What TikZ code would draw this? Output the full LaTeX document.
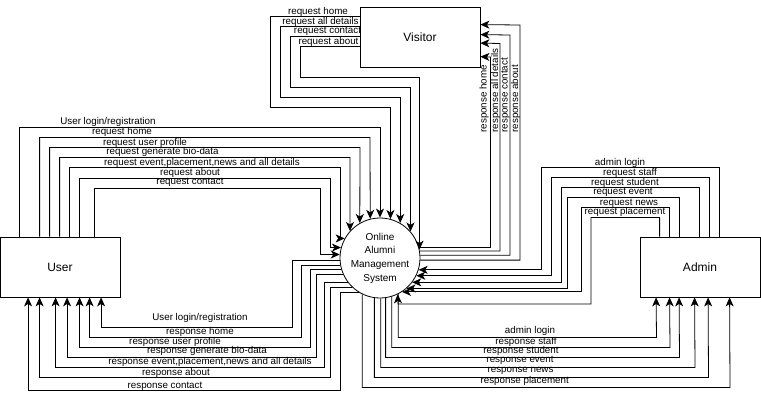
\documentclass[tikz,border=0pt]{standalone}
\usepackage{fontspec}
\setmainfont{Liberation Sans}
\usetikzlibrary{arrows.meta}

\begin{document}
\begin{tikzpicture}[x=1pt, y=-1pt,
  flow/.style={-{Stealth[length=9pt,width=8pt,inset=2.5pt]}, line width=0.8pt},
  ent/.style={draw, line width=0.8pt, minimum width=120pt, minimum height=60pt, font=\fontsize{12}{14}\selectfont},
  proc/.style={circle, draw, line width=0.8pt, minimum size=80pt, inner sep=0pt, align=center, font=\fontsize{10}{13.7}\selectfont},
  lbl/.style={inner sep=0pt, font=\fontsize{9.8}{11}\selectfont}]
\useasboundingbox (0,0) rectangle (761,400);
\node[ent] (usr) at (60,267) {User};
\node[ent] (vis) at (420,37) {Visitor};
\node[ent] (adm) at (700,267) {Admin};
\node[proc] (sys) at (380,258) {Online\\Alumni\\Management\\System};

\draw[flow] ([xshift=20pt]usr.north west) |- (380,127) -- (sys.90) node[lbl] at (108,122) {User login/registration};
\draw[flow] ([xshift=40pt]usr.north west) |- (370,137.5) -- (sys.104.48) node[lbl] at (122,132) {request home};
\draw[flow] ([xshift=50pt]usr.north west) |- (360,147.5) -- (sys.120) node[lbl] at (145,142.7) {request user profile};
\draw[flow] ([xshift=60pt]usr.north west) |- (350,157.5) -- (sys.138.59) node[lbl] at (162.5,152.3) {request generate bio-data};
\draw[flow] ([xshift=70pt]usr.north west) |- (340,167.5) |- (sys.151.64) node[lbl] at (202,162.7) {request event,placement,news and all details};
\draw[flow] ([xshift=80pt]usr.north west) |- (330,178) |- (sys.165.52) node[lbl] at (190,172.7) {request about};
\draw[flow] ([xshift=95pt]usr.north west) |- (320,188) |- (sys.175.70) node[lbl] at (190,182.7) {request contact};

\draw[flow] (sys.183.58) -| (292,327.5) -| ([xshift=101.5pt]usr.south west) node[lbl] at (200,318.3) {User login/registration};
\draw[flow] (sys.190.08) -| (301,337.5) -| ([xshift=90pt]usr.south west) node[lbl] at (200,331.7) {response home};
\draw[flow] (sys.196.71) -| (310,347.5) -| ([xshift=80pt]usr.south west) node[lbl] at (175,341.7) {response user profile};
\draw[flow] (sys.204.36) -| (316.5,357.5) -| ([xshift=67.5pt]usr.south west) node[lbl] at (207,351) {response generate bio-data};
\draw[flow] (sys.217.77) -| (324,367.5) -| ([xshift=56pt]usr.south west) node[lbl] at (210,361.7) {response event,placement,news and all details};
\draw[flow] (sys.227.51) -| (330,377.5) -| ([xshift=40pt]usr.south west) node[lbl] at (176,372.7) {response about};
\draw[flow] (sys.239.60) -| (340,390.5) -| ([xshift=28.5pt]usr.south west) node[lbl] at (165,386) {response contact};

\draw[flow] ([yshift=-10pt]vis.north west) -| (270,107) -| (sys.75.52) node[lbl] at (318,11.7) {request home};
\draw[flow] ([yshift=-20pt]vis.north west) -| (280,97) -| (sys.60) node[lbl] at (320.5,22.3) {request all details};
\draw[flow] ([yshift=-30pt]vis.north west) -| (290,87) -| (sys.41.41) node[lbl] at (327.5,31.7) {request contact};
\draw[flow] ([yshift=-40pt]vis.north west) -| (300,77) -| (sys.12.84) node[lbl] at (328.5,41.7) {request about};

\draw[flow] (sys.15.96) -| (490.5,57) -- ([yshift=-50pt]vis.north east) node[lbl, rotate=90, anchor=west] at (484,133) {response home};
\draw[flow] (sys.10.08) -| (500,43.5) -- ([yshift=-36.5pt]vis.north east) node[lbl, rotate=90, anchor=west] at (495.5,133) {response all details};
\draw[flow] (sys.4.30) -| (510,35) -- ([yshift=-28pt]vis.north east) node[lbl, rotate=90, anchor=west] at (505.5,133) {response contact};
\draw[flow] (sys.357.13) -| (520,25) -- ([yshift=-18pt]vis.north east) node[lbl, rotate=90, anchor=west] at (515.5,133) {response about};

\draw[flow] ([xshift=80pt]adm.north west) |- (541,167.5) |- (sys.343.29) node[lbl] at (620,162.7) {admin login};
\draw[flow] ([xshift=70pt]adm.north west) |- (551,177.5) |- (sys.334.85) node[lbl] at (630,172.7) {request staff};
\draw[flow] ([xshift=60pt]adm.north west) |- (561,187.5) |- (sys.323.13) node[lbl] at (625,182.7) {request student};
\draw[flow] ([xshift=40pt]adm.north west) |- (567.5,197.5) |- (sys.311.41) node[lbl] at (623,192.7) {request event};
\draw[flow] ([xshift=30pt]adm.north west) |- (581,207.5) |- (sys.303.12) node[lbl] at (629,203.3) {request news};
\draw[flow] ([xshift=20pt]adm.north west) |- (591,217.5) |- (398,304) -- (sys.296.74) node[lbl] at (625,211.7) {request placement};

\draw[flow] (sys.297.23) |- (656.5,337.5) -- ([xshift=16.5pt]adm.south west) node[lbl] at (530,330.7) {admin login};
\draw[flow] (sys.287.01) |- (670,347.5) -- ([xshift=30pt]adm.south west) node[lbl] at (526,342.3) {response staff};
\draw[flow] (sys.278.63) |- (679.5,357.5) -- ([xshift=39.5pt]adm.south west) node[lbl] at (521,350.7) {response student};
\draw[flow] (sys.271.00) |- (695,367.5) -- ([xshift=55pt]adm.south west) node[lbl] at (520,360.7) {response event};
\draw[flow] (sys.262.82) |- (708.5,377.5) -- ([xshift=68.5pt]adm.south west) node[lbl] at (520.5,370.7) {response news};
\draw[flow] (sys.244.85) |- (730,387.5) -- ([xshift=90pt]adm.south west) node[lbl] at (524.7,380.7) {response placement};
\end{tikzpicture}
\end{document}
